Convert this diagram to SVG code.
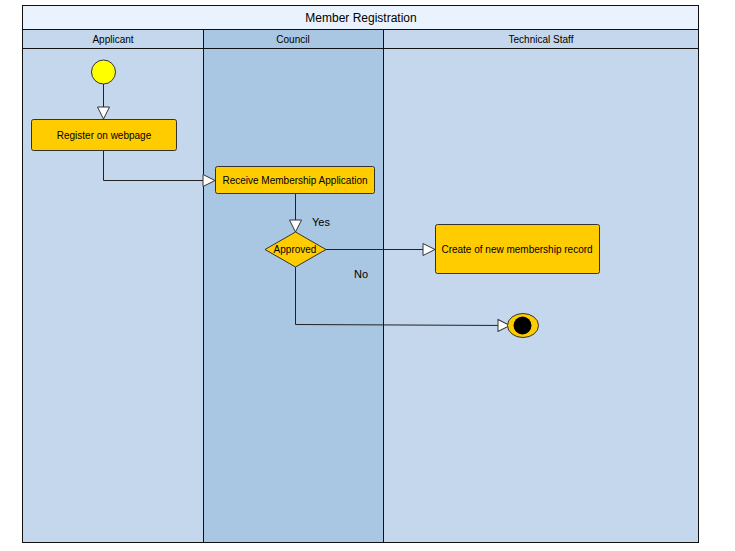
<svg xmlns="http://www.w3.org/2000/svg" width="735" height="551" viewBox="0 0 735 551">
<defs>
<style>
.t{font-family:"Liberation Sans",Arial,sans-serif;fill:#000;text-anchor:middle}
.s{font-size:11px}
.box{fill:#ffcc00;stroke:#333;stroke-width:1}
.ln{fill:none;stroke:#222;stroke-width:1}
.lane{stroke:#111;stroke-width:1}
</style>
<marker id="ar" markerWidth="14" markerHeight="14" refX="13" refY="7" orient="auto" markerUnits="userSpaceOnUse">
<path d="M1,1 L13,7 L1,13 Z" fill="#fff" stroke="#333" stroke-width="1"/>
</marker>
</defs>
<rect width="735" height="551" fill="#fff"/>
<g id="pool">
<rect x="22.5" y="5.5" width="676" height="24" fill="#eaf3fd" stroke="#111"/>
<text class="t" x="361" y="22" font-size="12">Member Registration</text>
<rect id="lane-applicant" class="lane" x="22.5" y="29.5" width="181" height="513" fill="#c5d7ec"/>
<rect id="lane-council" class="lane" x="203.5" y="29.5" width="180" height="513" fill="#a9c7e2"/>
<rect id="lane-tech" class="lane" x="383.5" y="29.5" width="315" height="513" fill="#c5d7ec"/>
<line class="lane" x1="22.5" y1="48.5" x2="698.5" y2="48.5"/>
<text class="t" x="113" y="43" font-size="10">Applicant</text>
<text class="t" x="293" y="43" font-size="10">Council</text>
<text class="t" x="541" y="43" font-size="10">Technical Staff</text>
</g>
<g id="connectors">
<path class="ln" d="M103.5,84 V119" marker-end="url(#ar)"/>
<path class="ln" d="M103.5,150 V180.5 H215" marker-end="url(#ar)"/>
<path class="ln" d="M295.5,193 V232" marker-end="url(#ar)"/>
<path class="ln" d="M325,249.5 H435" marker-end="url(#ar)"/>
<path class="ln" d="M295.5,267 V324.5 L510,325.5" marker-end="url(#ar)"/>
<text class="t s" x="321" y="226" font-size="10">Yes</text>
<text class="t s" x="361" y="278" font-size="10">No</text>
</g>
<g id="start">
<circle cx="103.5" cy="72" r="12" fill="#ffff00" stroke="#333"/>
</g>
<g id="register">
<rect class="box" x="31.5" y="119.5" width="145" height="31" rx="2"/>
<text class="t" x="104" y="139" font-size="10">Register on webpage</text>
</g>
<g id="receive">
<rect class="box" x="215.5" y="166.5" width="159" height="27" rx="2"/>
<text class="t" x="295" y="184" font-size="10">Receive Membership Application</text>
</g>
<g id="approved">
<polygon class="box" points="295.5,232 326,249.5 295.5,267 265,249.5"/>
<text class="t" x="295" y="253" font-size="10">Approved</text>
</g>
<g id="create">
<rect class="box" x="435.5" y="224.5" width="164" height="49" rx="2"/>
<text class="t" x="517" y="253" font-size="10">Create of new membership record</text>
</g>
<g id="end">
<ellipse cx="523" cy="325.5" rx="15.5" ry="12" fill="#ffcc00" stroke="#333"/>
<circle cx="522.5" cy="325.5" r="9" fill="#000"/>
</g>
</svg>
